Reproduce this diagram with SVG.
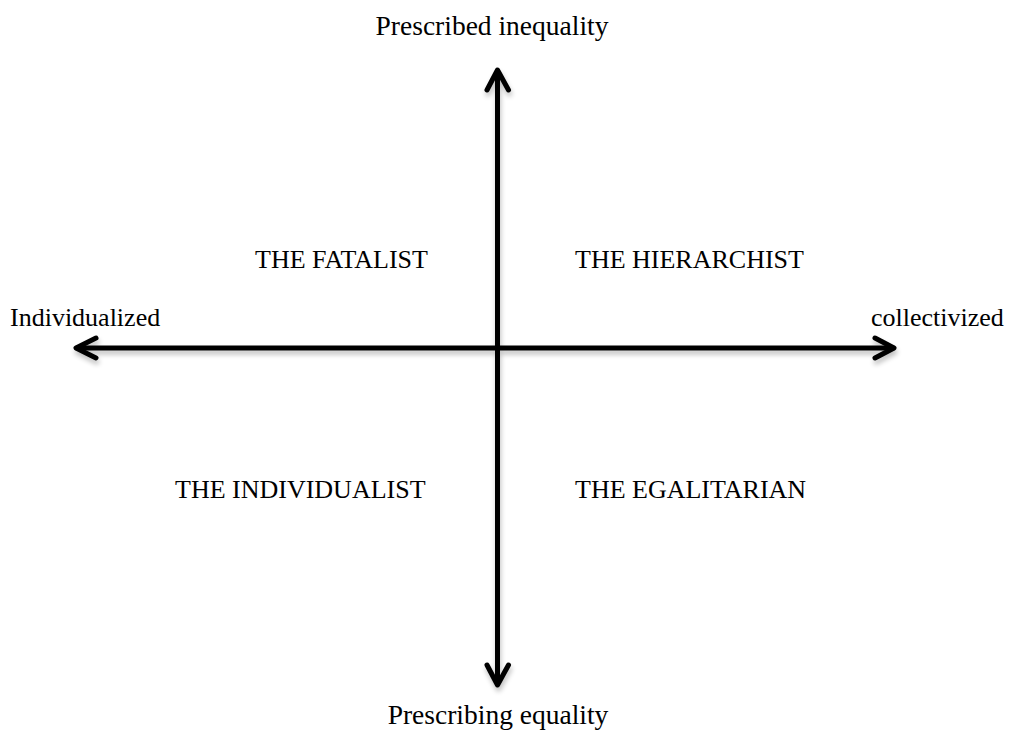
<svg xmlns="http://www.w3.org/2000/svg" width="1009" height="733" viewBox="0 0 1009 733">
  <style>
    text { font-family: "Liberation Serif", "Times New Roman", serif; font-size: 26px; fill: #000; }
    .big { font-size: 27.5px; }
    .ax { stroke: #000; stroke-width: 5; fill: none; stroke-linecap: round; stroke-linejoin: round; }
  </style>
  <defs>
    <filter id="sh" x="-10%" y="-10%" width="120%" height="120%">
      <feGaussianBlur in="SourceAlpha" stdDeviation="2.5"/>
      <feOffset dx="1" dy="4" result="b"/>
      <feComponentTransfer><feFuncA type="linear" slope="0.25"/></feComponentTransfer>
      <feMerge><feMergeNode/><feMergeNode in="SourceGraphic"/></feMerge>
    </filter>
  </defs>
  <rect width="1009" height="733" fill="#fff"/>
  <g id="connectors" filter="url(#sh)">
    <line class="ax" x1="497.5" y1="71" x2="497.5" y2="684"/>
    <polyline class="ax" points="487,90 497.5,70 508.5,90"/>
    <polyline class="ax" points="487,665 497.5,685 508.5,665"/>
    <line class="ax" x1="77" y1="348" x2="893" y2="348"/>
    <polyline class="ax" points="96,338 76,348 96,358"/>
    <polyline class="ax" points="875,338 894,348 875,358"/>
  </g>
  <g id="top-label"><text class="big" x="492" y="35" text-anchor="middle">Prescribed inequality</text></g>
  <g id="bottom-label"><text class="big" x="498" y="724" text-anchor="middle">Prescribing equality</text></g>
  <g id="left-label"><text x="10" y="326">Individualized</text></g>
  <g id="right-label"><text x="871" y="326">collectivized</text></g>
  <g id="fatalist"><text x="255" y="268">THE FATALIST</text></g>
  <g id="hierarchist"><text x="575" y="268">THE HIERARCHIST</text></g>
  <g id="individualist"><text x="175" y="498">THE INDIVIDUALIST</text></g>
  <g id="egalitarian"><text x="575" y="498">THE EGALITARIAN</text></g>
</svg>
